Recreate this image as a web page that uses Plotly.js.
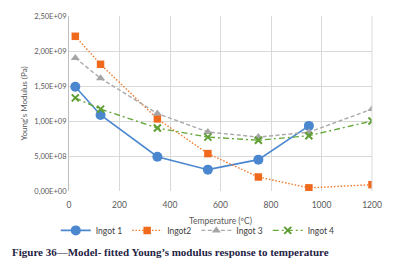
<!DOCTYPE html>
<html><head><meta charset="utf-8">
<script src="https://cdn.plot.ly/plotly-3.0.1.min.js"></script>
<style>html,body{margin:0;padding:0;background:#fff}#c{width:394px;height:266px}</style>
</head><body><div id="c"></div>
<script>
const temps = [25, 125, 350, 550, 750, 950, 1200];
const ingot1 = [1.49e9, 1.086e9, 0.49e9, 0.305e9, 0.448e9, 0.93e9, null];
const ingot2 = [2.21e9, 1.81e9, 1.03e9, 0.534e9, 0.2e9, 0.045e9, 0.09e9];
const ingot3 = [1.9e9, 1.61e9, 1.106e9, 0.843e9, 0.77e9, 0.84e9, 1.17e9];
const ingot4 = [1.33e9, 1.17e9, 0.9e9, 0.77e9, 0.725e9, 0.79e9, 1.0e9];
const yTickVals = [0, 0.5e9, 1.0e9, 1.5e9, 2.0e9, 2.5e9];
const yTickText = ["0,00E+00", "5,00E+08", "1,00E+09", "1,50E+09", "2,00E+09", "2,50E+09"];
const xTickVals = [0, 200, 400, 600, 800, 1000, 1200];

const traces = [
  {x: temps, y: ingot1, name: "Ingot 1", mode: "lines+markers",
   line: {color: "#4a87cf", width: 1.6},
   marker: {symbol: "circle", size: 10, color: "#4a87cf"}},
  {x: temps, y: ingot2, name: "Ingot2", mode: "lines+markers",
   line: {color: "#f07a2a", width: 1.4, dash: "1.5px,1.8px"},
   marker: {symbol: "square", size: 7.5, color: "#f06a1e"}},
  {x: temps, y: ingot3, name: "Ingot 3", mode: "lines+markers",
   line: {color: "#a9a9a9", width: 1.4, dash: "4px,2.5px"},
   marker: {symbol: "triangle-up", size: 8, color: "#a5a5a5"}},
  {x: temps, y: ingot4, name: "Ingot 4", mode: "lines+markers",
   line: {color: "#66a83a", width: 1.4, dash: "6px,3px,2px,3px"},
   marker: {symbol: "x-thin", size: 7, color: "#5e9e32", line: {color: "#5e9e32", width: 2}}}
];

const layout = {
  width: 394, height: 266,
  margin: {l: 69, r: 21.5, t: 15.7, b: 75.3},
  paper_bgcolor: "#fff", plot_bgcolor: "#fff",
  font: {family: "Lato, 'Open Sans', sans-serif", size: 8, color: "#595959"},
  showlegend: true,
  legend: {orientation: "h", x: 0.425, xanchor: "center", y: -0.225, yanchor: "middle",
           font: {size: 8.5, color: "#404040"}, tracegroupgap: 0},
  xaxis: {range: [0, 1200], tickvals: xTickVals, showgrid: true, gridcolor: "#d9d9d9",
          zeroline: false, showline: false, ticks: "outside", ticklen: 6, tickcolor: "rgba(0,0,0,0)",
          tickfont: {size: 8.5, color: "#595959"},
          title: {text: "Temperature (ºC)", font: {size: 8.5, color: "#595959"}, standoff: 8}},
  yaxis: {range: [0, 2.5e9], tickvals: yTickVals, ticktext: yTickText, showgrid: true,
          gridcolor: "#d9d9d9", zeroline: false, showline: true, linecolor: "#bfbfbf",
          ticks: "", tickfont: {size: 7.5, color: "#595959"},
          title: {text: "Young's Modulus (Pa)", font: {size: 8, color: "#595959"}, standoff: 5}},
  shapes: [{type: "line", xref: "paper", yref: "paper", x0: 1, x1: 1, y0: 0, y1: 1,
            line: {color: "#d9d9d9", width: 1}}],
  annotations: [{text: "<b>Figure 36—Model- fitted Young’s modulus response to temperature</b>",
    xref: "paper", yref: "paper", x: -0.194, xanchor: "left", y: -0.35, yanchor: "middle",
    showarrow: false, font: {family: "'Liberation Serif', 'DejaVu Serif', serif", size: 11, color: "#1f2345"}}]
};
Plotly.newPlot("c", traces, layout, {displayModeBar: false, staticPlot: true});
</script></body></html>
